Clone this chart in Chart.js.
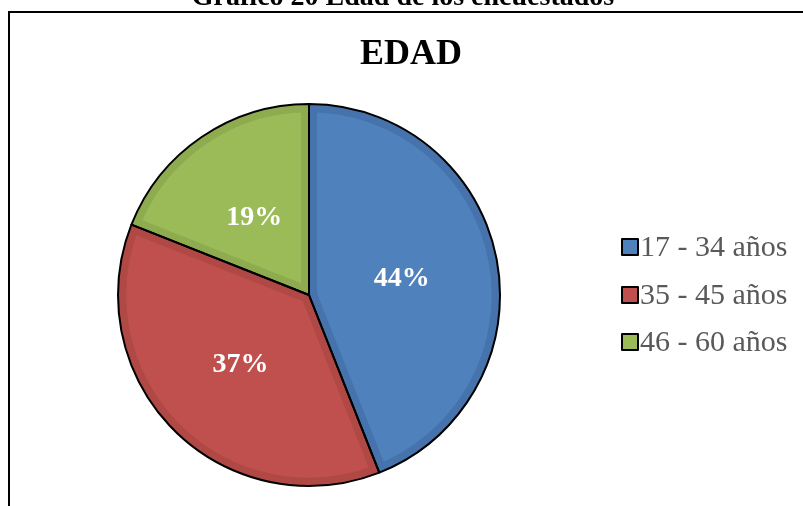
<!DOCTYPE html>
<html lang="es">
  <head>
    <meta charset="utf-8">
    <title>Edad de los encuestados</title>
    <script src="https://cdn.jsdelivr.net/npm/chart.js"></script>
    <style>
      body { margin: 0; background: #fff; }
      #wrap { position: relative; width: 803px; height: 506px; }
    </style>
  </head>
  <body>
    <div id="wrap">
        <canvas id="myChart" width="803" height="506"></canvas>
    </div>
  </body>

  <script>
    // datos
    const categorias = ['17 - 34 años', '35 - 45 años', '46 - 60 años'];
    const porcentajes = [44, 37, 19];
    const colores = ['#4F81BD', '#C0504D', '#9BBB59'];
    const coloresBorde = ['#4673AC', '#B04845', '#8EAB50'];

    const serif = "'Liberation Serif', 'Times New Roman', serif";

    // marco, titulos y leyenda dibujados a mano
    const extras = {
        id: 'extras',
        beforeDraw(chart) {
            const c = chart.ctx;
            c.save();
            c.fillStyle = '#000';
            c.fillRect(8, 11, 795, 2);
            c.fillRect(8, 11, 2, 495);
            c.textAlign = 'center';
            c.textBaseline = 'alphabetic';
            c.font = 'bold 28px ' + serif;
            c.fillText('Gráfico 20 Edad de los encuestados', 403, 5);
            c.font = 'bold 36px ' + serif;
            c.fillText('EDAD', 411, 64);
            c.restore();
        },
        afterDatasetsDraw(chart) {
            const c = chart.ctx;
            const meta = chart.getDatasetMeta(0);
            const ds = chart.data.datasets[0];
            c.save();
            // contorno negro de cada sector
            c.strokeStyle = '#000';
            c.lineWidth = 2;
            c.lineJoin = 'round';
            meta.data.forEach(arc => {
                c.beginPath();
                c.moveTo(arc.x, arc.y);
                c.arc(arc.x, arc.y, arc.outerRadius, arc.startAngle, arc.endAngle);
                c.closePath();
                c.stroke();
            });
            // etiquetas de porcentaje
            c.fillStyle = '#fff';
            c.font = 'bold 28px ' + serif;
            c.textAlign = 'center';
            c.textBaseline = 'middle';
            meta.data.forEach((arc, i) => {
                const p = arc.tooltipPosition();
                c.fillText(ds.data[i] + '%', p.x - 1, p.y + 2);
            });
            // leyenda
            const filas = [247, 295, 342];
            c.textAlign = 'left';
            c.font = '30px ' + serif;
            chart.data.labels.forEach((lab, i) => {
                const y = filas[i];
                c.fillStyle = ds.backgroundColor[i];
                c.fillRect(622, y - 8, 16, 16);
                c.strokeStyle = '#000';
                c.lineWidth = 2;
                c.strokeRect(622, y - 8, 16, 16);
                c.fillStyle = '#595959';
                c.fillText(lab, 640, y + 1);
            });
            c.restore();
        }
    };

    const ctx = document.getElementById('myChart').getContext('2d');
    const myChart = new Chart(ctx, {
        type: 'pie',
        data: {
            labels: categorias,
            datasets: [{
                data: porcentajes,
                backgroundColor: colores,
                borderColor: coloresBorde,
                borderWidth: 8,
                borderAlign: 'inner'
            }]
        },
        options: {
            responsive: false,
            animation: false,
            layout: {
                padding: { left: 118, right: 303, top: 104, bottom: 20 }
            },
            plugins: {
                legend: { display: false },
                tooltip: { enabled: false }
            }
        },
        plugins: [extras]
    });
    </script>
</html>
